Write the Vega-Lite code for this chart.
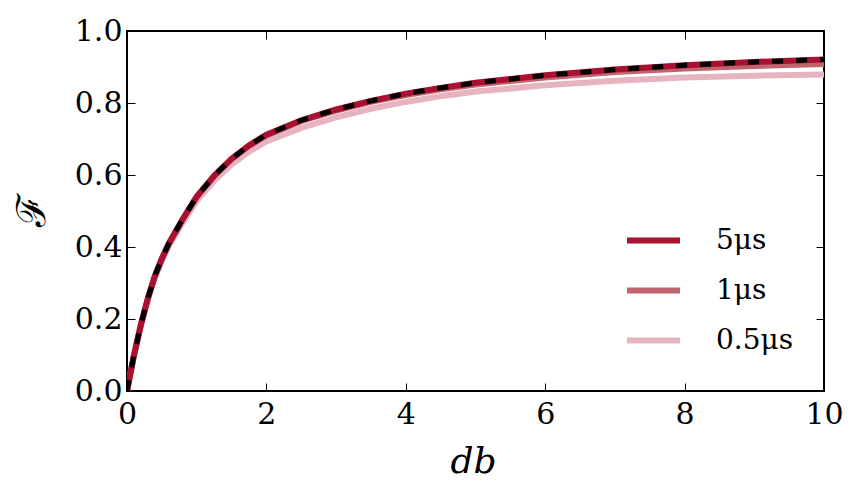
{
  "$schema": "https://vega.github.io/schema/vega-lite/v6.json",
  "width": 697,
  "height": 360,
  "autosize": {"type": "none"},
  "padding": {"left": 127, "top": 31, "right": 34, "bottom": 112},
  "background": "white",
  "config": {
    "view": {"stroke": "black", "strokeWidth": 2},
    "axis": {
      "domain": false,
      "grid": false,
      "tickColor": "black",
      "tickWidth": 1,
      "tickSize": -8,
      "labelFlush": false,
      "labelOverlap": false,
      "labelFont": "DejaVu Serif",
      "labelFontSize": 30,
      "labelColor": "black",
      "titleColor": "black",
      "titleFontWeight": "normal"
    }
  },
  "datasets": {
    "sim": [
      {"d": 0, "F": 0, "s": "0.5μs"}, {"d": 0.05, "F": 0.049, "s": "0.5μs"}, {"d": 0.1, "F": 0.098, "s": "0.5μs"}, {"d": 0.2, "F": 0.183, "s": "0.5μs"}, {"d": 0.3, "F": 0.255, "s": "0.5μs"}, {"d": 0.4, "F": 0.315, "s": "0.5μs"}, {"d": 0.5, "F": 0.362, "s": "0.5μs"}, {"d": 0.6, "F": 0.403, "s": "0.5μs"}, {"d": 0.8, "F": 0.468, "s": "0.5μs"}, {"d": 1.0, "F": 0.528, "s": "0.5μs"}, {"d": 1.25, "F": 0.584, "s": "0.5μs"}, {"d": 1.5, "F": 0.629, "s": "0.5μs"}, {"d": 1.75, "F": 0.665, "s": "0.5μs"}, {"d": 2.0, "F": 0.693, "s": "0.5μs"}, {"d": 2.5, "F": 0.731, "s": "0.5μs"}, {"d": 3.0, "F": 0.76, "s": "0.5μs"}, {"d": 3.5, "F": 0.784, "s": "0.5μs"}, {"d": 4.0, "F": 0.803, "s": "0.5μs"}, {"d": 4.5, "F": 0.819, "s": "0.5μs"}, {"d": 5.0, "F": 0.832, "s": "0.5μs"}, {"d": 6.0, "F": 0.849, "s": "0.5μs"}, {"d": 7.0, "F": 0.862, "s": "0.5μs"}, {"d": 8.0, "F": 0.871, "s": "0.5μs"}, {"d": 9.0, "F": 0.876, "s": "0.5μs"}, {"d": 10.0, "F": 0.879, "s": "0.5μs"},
      {"d": 0, "F": 0, "s": "1μs"}, {"d": 0.05, "F": 0.049, "s": "1μs"}, {"d": 0.1, "F": 0.099, "s": "1μs"}, {"d": 0.2, "F": 0.184, "s": "1μs"}, {"d": 0.3, "F": 0.257, "s": "1μs"}, {"d": 0.4, "F": 0.319, "s": "1μs"}, {"d": 0.5, "F": 0.367, "s": "1μs"}, {"d": 0.6, "F": 0.409, "s": "1μs"}, {"d": 0.8, "F": 0.477, "s": "1μs"}, {"d": 1.0, "F": 0.539, "s": "1μs"}, {"d": 1.25, "F": 0.597, "s": "1μs"}, {"d": 1.5, "F": 0.644, "s": "1μs"}, {"d": 1.75, "F": 0.681, "s": "1μs"}, {"d": 2.0, "F": 0.71, "s": "1μs"}, {"d": 2.5, "F": 0.75, "s": "1μs"}, {"d": 3.0, "F": 0.779, "s": "1μs"}, {"d": 3.5, "F": 0.803, "s": "1μs"}, {"d": 4.0, "F": 0.822, "s": "1μs"}, {"d": 4.5, "F": 0.838, "s": "1μs"}, {"d": 5.0, "F": 0.851, "s": "1μs"}, {"d": 6.0, "F": 0.871, "s": "1μs"}, {"d": 7.0, "F": 0.886, "s": "1μs"}, {"d": 8.0, "F": 0.896, "s": "1μs"}, {"d": 9.0, "F": 0.903, "s": "1μs"}, {"d": 10.0, "F": 0.908, "s": "1μs"},
      {"d": 0, "F": 0, "s": "5μs"}, {"d": 0.05, "F": 0.05, "s": "5μs"}, {"d": 0.1, "F": 0.1, "s": "5μs"}, {"d": 0.2, "F": 0.185, "s": "5μs"}, {"d": 0.3, "F": 0.258, "s": "5μs"}, {"d": 0.4, "F": 0.32, "s": "5μs"}, {"d": 0.5, "F": 0.368, "s": "5μs"}, {"d": 0.6, "F": 0.41, "s": "5μs"}, {"d": 0.8, "F": 0.478, "s": "5μs"}, {"d": 1.0, "F": 0.54, "s": "5μs"}, {"d": 1.25, "F": 0.598, "s": "5μs"}, {"d": 1.5, "F": 0.645, "s": "5μs"}, {"d": 1.75, "F": 0.682, "s": "5μs"}, {"d": 2.0, "F": 0.712, "s": "5μs"}, {"d": 2.5, "F": 0.752, "s": "5μs"}, {"d": 3.0, "F": 0.782, "s": "5μs"}, {"d": 3.5, "F": 0.806, "s": "5μs"}, {"d": 4.0, "F": 0.826, "s": "5μs"}, {"d": 4.5, "F": 0.842, "s": "5μs"}, {"d": 5.0, "F": 0.856, "s": "5μs"}, {"d": 6.0, "F": 0.877, "s": "5μs"}, {"d": 7.0, "F": 0.893, "s": "5μs"}, {"d": 8.0, "F": 0.905, "s": "5μs"}, {"d": 9.0, "F": 0.914, "s": "5μs"}, {"d": 10.0, "F": 0.921, "s": "5μs"}
    ],
    "theory": [
      {"d": 0, "F": 0}, {"d": 0.05, "F": 0.05}, {"d": 0.1, "F": 0.1}, {"d": 0.2, "F": 0.185}, {"d": 0.3, "F": 0.258}, {"d": 0.4, "F": 0.32}, {"d": 0.5, "F": 0.368}, {"d": 0.6, "F": 0.41}, {"d": 0.8, "F": 0.478}, {"d": 1.0, "F": 0.54}, {"d": 1.25, "F": 0.598}, {"d": 1.5, "F": 0.645}, {"d": 1.75, "F": 0.682}, {"d": 2.0, "F": 0.712}, {"d": 2.5, "F": 0.752}, {"d": 3.0, "F": 0.782}, {"d": 3.5, "F": 0.806}, {"d": 4.0, "F": 0.826}, {"d": 4.5, "F": 0.842}, {"d": 5.0, "F": 0.856}, {"d": 6.0, "F": 0.877}, {"d": 7.0, "F": 0.893}, {"d": 8.0, "F": 0.905}, {"d": 9.0, "F": 0.914}, {"d": 10.0, "F": 0.921}
    ]
  },
  "layer": [
    {
      "data": {"name": "sim"},
      "mark": {"type": "line", "strokeWidth": 6, "clip": true, "strokeCap": "butt"},
      "encoding": {
        "x": {
          "field": "d", "type": "quantitative",
          "scale": {"domain": [0, 10], "nice": false, "zero": false},
          "axis": {
            "orient": "bottom", "values": [0, 2, 4, 6, 8, 10], "format": "d",
            "labelPadding": 16, "labelBaseline": "top",
            "title": "db", "titleFont": "DejaVu Serif", "titleFontStyle": "italic", "titleFontSize": 36,
            "titleAnchor": "start", "titleAlign": "center", "titleX": 346, "titleY": 81, "titleBaseline": "alphabetic"
          }
        },
        "y": {
          "field": "F", "type": "quantitative",
          "scale": {"domain": [0, 1], "nice": false},
          "axis": {
            "orient": "left", "values": [0, 0.2, 0.4, 0.6, 0.8, 1.0], "format": ".1f",
            "labelPadding": 13,
            "title": "ℱ", "titleFont": "DejaVu Serif", "titleFontSize": 40,
            "titleAngle": -90, "titleAlign": "center", "titleBaseline": "middle", "titleX": -95, "titleY": 179
          }
        },
        "color": {
          "field": "s", "type": "nominal",
          "scale": {"domain": ["5μs", "1μs", "0.5μs"], "range": ["#A8112F", "#C2646F", "#E6B4BE"]},
          "legend": {
            "orient": "none", "legendX": 497, "legendY": 180, "title": null,
            "symbolType": "stroke", "symbolSize": 2809, "symbolStrokeWidth": 6,
            "labelFont": "DejaVu Serif", "labelFontSize": 28, "labelColor": "black",
            "labelOffset": 33, "rowPadding": 6, "padding": 0
          }
        }
      }
    },
    {
      "data": {"name": "theory"},
      "mark": {"type": "line", "strokeWidth": 5, "strokeDash": [11, 13], "color": "black", "clip": true, "strokeCap": "butt"},
      "encoding": {
        "x": {
          "field": "d", "type": "quantitative",
          "axis": {"orient": "top", "values": [0, 2, 4, 6, 8, 10], "labels": false, "title": null}
        },
        "y": {
          "field": "F", "type": "quantitative",
          "axis": {"orient": "right", "values": [0, 0.2, 0.4, 0.6, 0.8, 1.0], "labels": false, "title": null}
        }
      }
    }
  ],
  "resolve": {"axis": {"x": "independent", "y": "independent"}}
}
